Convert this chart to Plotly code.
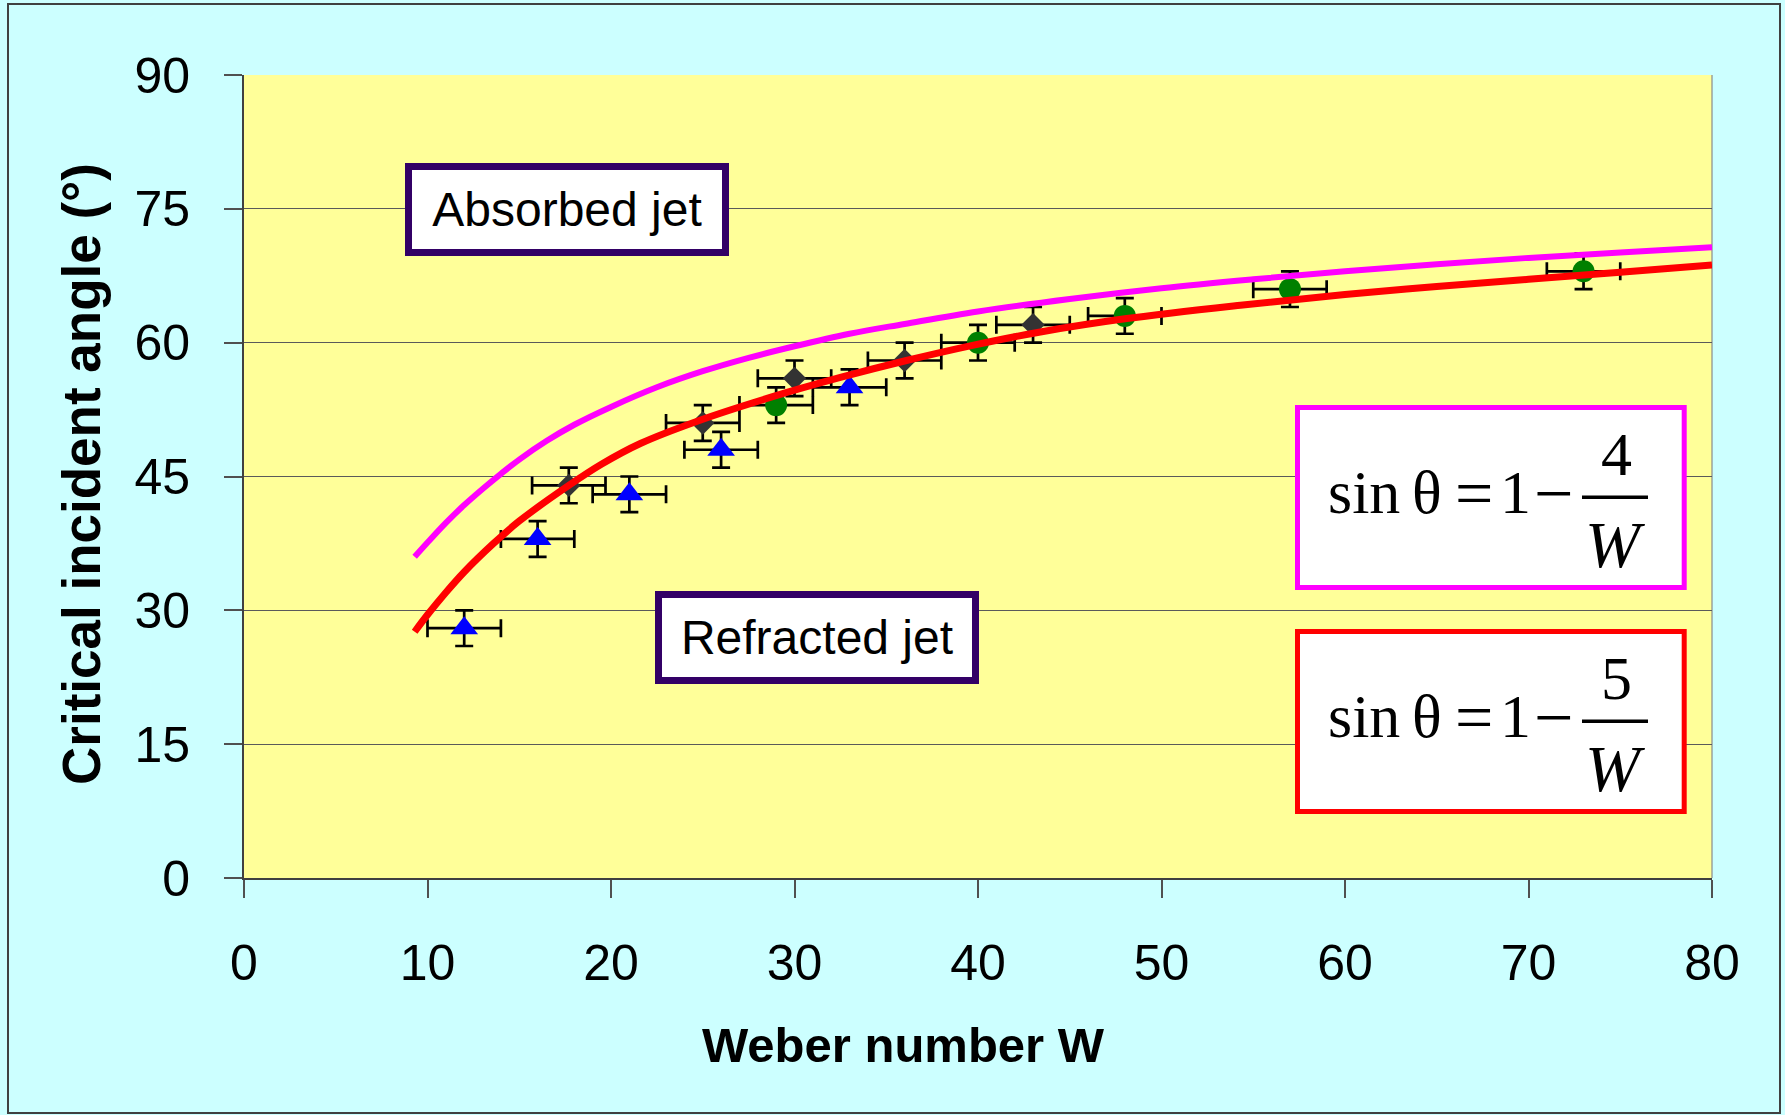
import plotly.graph_objects as go

# ---------------- data ----------------
tri_w = [12, 16, 21, 26, 33]
tri_theta = [28, 38, 43, 48, 55]
dia_w = [17.7, 25, 30, 36, 43]
dia_theta = [44, 51, 56, 58, 62]
cir_w = [29, 40, 48, 57, 73]
cir_theta = [53, 60, 63, 66, 68]
err_w = 2
err_theta = 2

mag_w = [9.3, 10, 11, 12, 13, 14, 15, 16.5, 18, 20, 22.5, 25, 27.5, 30, 33, 36, 40, 45, 50, 55, 60, 65, 70, 75, 80]
mag_theta = [36.0, 37.6, 39.8, 41.8, 43.6, 45.3, 46.9, 49.0, 50.8, 52.8, 55.0, 56.8, 58.3, 59.6,
             61.0, 62.1, 63.5, 64.9, 66.1, 67.1, 68.0, 68.8, 69.5, 70.1, 70.7]
red_w = [9.3, 10, 11, 12, 13.6, 15, 17.7, 19.5, 21.6, 24.7, 28.9, 32.5, 36.1, 39.7, 43.4, 48.1, 54.3, 60, 65, 70, 75, 80]
red_theta = [27.6, 29.5, 32.0, 34.3, 37.5, 40.0, 44.0, 46.4, 48.7, 51.2, 54.0, 56.1, 58.0, 59.7,
             61.2, 62.7, 64.2, 65.4, 66.3, 67.1, 67.9, 68.7]

x_ticks = [0, 10, 20, 30, 40, 50, 60, 70, 80]
y_ticks = [0, 15, 30, 45, 60, 75, 90]

x_title = "Weber number W"
y_title = "Critical incident angle (°)"
label_absorbed = "Absorbed jet"
label_refracted = "Refracted jet"
eq_parts = ["sin", "θ", "=", "1", "−"]
eq_num_mag = "4"
eq_num_red = "5"
eq_den = "<i>W</i>"

# ---------------- styling / layout ----------------
W, H = 1785, 1115
ML, MR, MT, MB = 244, 73, 75, 237
PW, PH = W - ML - MR, H - MT - MB
SANS = "Liberation Sans, Arial, sans-serif"
SERIF = "Liberation Serif, Times New Roman, serif"
EQ_PART_CX = [1363.8, 1426.7, 1474.2, 1515.8, 1553.3]
EQ_PART_SIZE = [62, 62, 68, 62, 70]


def px2x(px):
    return (px - ML) / PW * 80.0


def py2y(py):
    return (MT + PH - py) / PH * 90.0


def px2paper(px):
    return (px - ML) / PW


def py2paper(py):
    return (MT + PH - py) / PH


err_style = dict(type="constant", color="black", thickness=2.7, width=9)

fig = go.Figure()
fig.add_trace(go.Scatter(
    x=tri_w, y=tri_theta, mode="markers",
    marker=dict(symbol="triangle-up", size=24, color="#0000FF", line=dict(width=0)),
    error_x=dict(value=err_w, **err_style), error_y=dict(value=err_theta, **err_style),
    showlegend=False))
fig.add_trace(go.Scatter(
    x=dia_w, y=dia_theta, mode="markers",
    marker=dict(symbol="diamond", size=18, color="#333333", line=dict(width=0)),
    error_x=dict(value=err_w, **err_style), error_y=dict(value=err_theta, **err_style),
    showlegend=False))
fig.add_trace(go.Scatter(
    x=cir_w, y=cir_theta, mode="markers",
    marker=dict(symbol="circle", size=22, color="#008000", line=dict(width=0)),
    error_x=dict(value=err_w, **err_style), error_y=dict(value=err_theta, **err_style),
    showlegend=False))
fig.add_trace(go.Scatter(
    x=mag_w, y=mag_theta, mode="lines", line=dict(color="#FF00FF", width=6, shape="spline", smoothing=1),
    showlegend=False))
fig.add_trace(go.Scatter(
    x=red_w, y=red_theta, mode="lines", line=dict(color="#FF0000", width=7, shape="spline", smoothing=1),
    showlegend=False))

annotations = []
# axis titles
annotations.append(dict(text="<b>" + x_title + "</b>", xref="paper", yref="paper",
                        x=px2paper(903), y=py2paper(1045), xanchor="center", yanchor="middle",
                        showarrow=False, font=dict(family=SANS, size=49, color="black")))
annotations.append(dict(text="<b>" + y_title + "</b>", xref="paper", yref="paper",
                        x=px2paper(81), y=py2paper(474), xanchor="center", yanchor="middle",
                        textangle=-90, showarrow=False, font=dict(family=SANS, size=53, color="black")))
# region labels
for txt, cx, cy in [(label_absorbed, 567, 209.7), (label_refracted, 817.3, 637)]:
    annotations.append(dict(text=txt, x=px2x(cx), y=py2y(cy), xref="x", yref="y",
                            showarrow=False, width=310, height=79, borderwidth=7, borderpad=0,
                            bordercolor="#330066", bgcolor="white",
                            font=dict(family=SANS, size=48, color="black")))

# equation boxes (shapes) + text (annotations on top)
shapes = []
for col, num, dy in [("#FF00FF", eq_num_mag, 0), ("#FF0000", eq_num_red, 224)]:
    shapes.append(dict(type="rect", xref="x", yref="y",
                       x0=px2x(1297.5), x1=px2x(1684.2), y0=py2y(587.5 + dy), y1=py2y(407.5 + dy),
                       line=dict(color=col, width=5), fillcolor="white", layer="above"))
    shapes.append(dict(type="line", xref="x", yref="y",
                       x0=px2x(1582), x1=px2x(1648), y0=py2y(497.3 + dy), y1=py2y(497.3 + dy),
                       line=dict(color="black", width=3.5), layer="above"))
    for part, cx, fs in zip(eq_parts, EQ_PART_CX, EQ_PART_SIZE):
        yy = 492 + dy + (fs - 62) * 0.18
        annotations.append(dict(text=part, x=px2x(cx), y=py2y(yy), xref="x", yref="y",
                                xanchor="center", yanchor="middle", showarrow=False,
                                font=dict(family=SERIF, size=fs, color="black")))
    annotations.append(dict(text=num, x=px2x(1616), y=py2y(454 + dy), xref="x", yref="y",
                            xanchor="center", yanchor="middle", showarrow=False,
                            font=dict(family=SERIF, size=62, color="black")))
    annotations.append(dict(text=eq_den, x=px2x(1615), y=py2y(544 + dy), xref="x", yref="y",
                            xanchor="center", yanchor="middle", showarrow=False,
                            font=dict(family=SERIF, size=66, color="black")))

# right edge of plot area
shapes.append(dict(type="line", xref="paper", yref="paper", x0=1, x1=1, y0=0, y1=1,
                   line=dict(color="#8a8a8a", width=1.2), layer="below"))
# outer chart border
shapes.append(dict(type="rect", xref="paper", yref="paper",
                   x0=px2paper(8), x1=px2paper(1780), y0=py2paper(1113), y1=py2paper(4),
                   line=dict(color="#404040", width=2), fillcolor="rgba(0,0,0,0)", layer="below"))

fig.update_layout(
    width=W, height=H,
    margin=dict(l=ML, r=MR, t=MT, b=MB, pad=0),
    paper_bgcolor="#CCFFFF", plot_bgcolor="#FFFF99",
    showlegend=False,
    annotations=annotations, shapes=shapes,
    xaxis=dict(range=[0, 80], tickvals=x_ticks, ticktext=[str(v) for v in x_ticks],
               showgrid=False, zeroline=False, showline=True, linecolor="#404040", linewidth=2,
               ticks="outside", ticklen=18, tickwidth=1.5, tickcolor="#505050",
               ticklabelstandoff=22,
               tickfont=dict(family=SANS, size=50, color="black"), fixedrange=True),
    yaxis=dict(range=[0, 90], tickvals=y_ticks, ticktext=[str(v) for v in y_ticks],
               showgrid=True, gridcolor="#5a5a5a", gridwidth=1.2, zeroline=False,
               showline=True, linecolor="#404040", linewidth=2, mirror=False,
               ticks="outside", ticklen=18, tickwidth=1.5, tickcolor="#505050",
               ticklabelstandoff=24,
               tickfont=dict(family=SANS, size=50, color="black"), fixedrange=True),
)

fig.write_html("out.html")
